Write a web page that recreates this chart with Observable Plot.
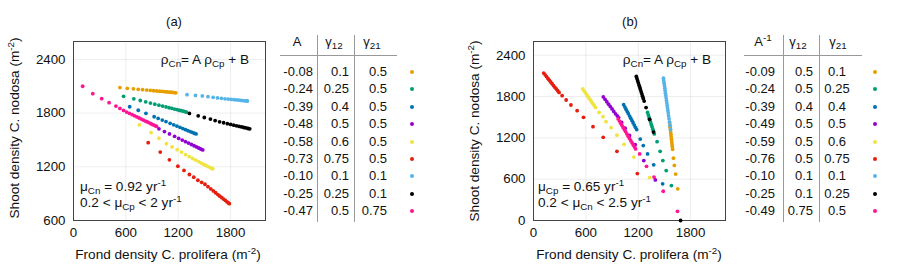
<!DOCTYPE html>
<html>
<head>
<meta charset="utf-8">
<script src="https://cdn.jsdelivr.net/npm/d3@7"></script>
<script src="https://cdn.jsdelivr.net/npm/@observablehq/plot@0.6"></script>
<style>
  html, body { margin: 0; padding: 0; background: #fff; }
  #root { position: relative; width: 900px; height: 277px; overflow: hidden;
          font-family: "Liberation Sans", Arial, sans-serif; font-size: 13px; color: #111; }
  .abs { position: absolute; white-space: nowrap; line-height: 16px; }
  .big { font-size: 13.6px; }
  .abs sub { font-size: 9.8px; vertical-align: -3px; line-height: 0; }
  .abs sup { font-size: 9.8px; vertical-align: 5px; line-height: 0; }
  .svgwrap { position: absolute; top: 0; }
  .hline, .vline { position: absolute; background: #999; }
  .sw { position: absolute; width: 4px; height: 4px; border-radius: 50%; }
</style>
</head>
<body>
<div id="root"></div>
<script>
// ---------- colours / series order ----------
const seriesNames = ["s1", "s2", "s3", "s4", "s5", "s6", "s7", "s8", "s9"];
const seriesColors = ["#e69f00", "#009e73", "#0072b2", "#9400d3", "#f0e442", "#e51e10", "#56b4e9", "#000000", "#ff1493"];

// ---------- panel (a) data: [frond density C. prolifera, shoot density C. nodosa] ----------
const aOrange = [[532,2085],[617,2077],[687,2071],[742,2066],[792,2062],[839,2057],[880,2054],[917,2050],[952,2047],[985,2044],[1015,2042],[1043,2039],[1069,2037],[1092,2035],[1115,2033],[1136,2031],[1155,2029],[1172,2027]];
const aGreen = [[574,1987],[691,1959],[765,1941],[827,1926],[882,1912],[932,1900],[979,1889],[1021,1878],[1060,1869],[1095,1860],[1127,1853],[1157,1845],[1185,1839],[1211,1832],[1234,1827],[1256,1821],[1277,1816],[1293,1812]];
const aBlue = [[644,1871],[742,1832],[830,1797],[924,1759],[970,1741],[1017,1722],[1060,1705],[1107,1686],[1148,1669],[1185,1655],[1220,1641],[1253,1627],[1283,1615],[1311,1604],[1337,1594],[1360,1585],[1383,1575],[1404,1567]];
const aPurple = [[979,1624],[1042,1594],[1100,1567],[1158,1540],[1205,1518],[1246,1499],[1283,1481],[1318,1465],[1351,1449],[1381,1435],[1409,1422],[1435,1410],[1458,1399],[1481,1388]];
const aYellow = [[754,1669],[889,1582],[979,1519],[1064,1458],[1130,1421],[1188,1391],[1238,1365],[1285,1335],[1327,1313],[1365,1293],[1400,1275],[1433,1258],[1463,1242],[1491,1228],[1517,1215],[1541,1203],[1565,1191],[1587,1182],[1596,1178]];
const aRed = [[856,1470],[994,1365],[1099,1278],[1196,1207],[1266,1159],[1328,1114],[1378,1084],[1425,1050],[1468,1027],[1506,1005],[1541,978],[1573,953],[1602,931],[1628,910],[1654,890],[1677,872],[1699,855],[1720,839],[1740,824],[1759,809],[1776,796],[1786,788]];
const aLightBlue = [[1301,2006],[1398,1998],[1476,1992],[1541,1984],[1600,1976],[1650,1969],[1695,1965],[1736,1960],[1773,1957],[1807,1953],[1839,1950],[1868,1947],[1895,1945],[1919,1942],[1943,1940],[1965,1937],[1986,1935],[1992,1935]];
const aBlack = [[1328,1796],[1429,1770],[1499,1751],[1569,1733],[1623,1717],[1674,1702],[1720,1692],[1763,1682],[1801,1673],[1836,1665],[1869,1658],[1899,1651],[1927,1645],[1953,1639],[1977,1634],[2000,1628],[2019,1624]];
const aPink = [[105,2100],[221,2017],[323,1961],[408,1916],[486,1879],[532,1852],[574,1830],[609,1812],[641,1797],[672,1782],[700,1769],[727,1757],[752,1745],[777,1733],[800,1722],[824,1711],[846,1701],[867,1691],[888,1681],[908,1671],[927,1663],[944,1655],[952,1651]];

// ---------- panel (b) data ----------
const bOrange = [[1560,1425],[1563,1390],[1566,1355],[1569,1320],[1572,1285],[1575,1250],[1578,1215],[1581,1180],[1584,1145],[1587,1110],[1590,1075],[1594,1035],[1604,905],[1614,800],[1629,675],[1653,460]];
const bGreen = [[1307,1570],[1316,1533],[1324,1501],[1333,1464],[1341,1432],[1350,1395],[1358,1362],[1367,1326],[1375,1293],[1384,1257],[1416,1145],[1451,1005],[1482,870],[1521,725],[1580,507]];
const bBlue = [[1033,1682],[1047,1648],[1060,1616],[1074,1582],[1087,1551],[1101,1517],[1114,1485],[1128,1451],[1141,1420],[1155,1386],[1168,1354],[1182,1320],[1223,1182],[1258,1088],[1307,967],[1377,808],[1480,532]];
const bPurple = [[800,1795],[820,1760],[840,1725],[860,1690],[880,1655],[900,1620],[920,1585],[940,1550],[960,1520],[975,1495],[1010,1425],[1050,1340],[1100,1235],[1165,1100],[1264,870],[1396,590]];
const bYellow = [[565,1910],[581,1880],[597,1851],[613,1821],[629,1792],[645,1762],[661,1732],[677,1702],[694,1673],[710,1643],[752,1570],[796,1508],[831,1436],[889,1349],[956,1240],[1038,1105],[1150,921],[1330,624]];
const bRed = [[117,2142],[133,2116],[149,2090],[165,2064],[181,2038],[197,2012],[213,1986],[229,1960],[245,1934],[261,1910],[277,1885],[293,1860],[328,1813],[374,1750],[429,1678],[500,1595],[573,1498],[682,1363],[799,1208],[956,1005],[1190,682]];
const bLightBlue = [[1489,2066],[1493,2030],[1497,1994],[1501,1958],[1505,1922],[1508,1886],[1512,1850],[1516,1814],[1520,1778],[1524,1742],[1528,1706],[1532,1670],[1536,1634],[1540,1598],[1544,1560],[1548,1520],[1553,1478],[1558,1432],[1564,1380],[1570,1320]];
const bBlack = [[1178,2092],[1186,2060],[1194,2028],[1202,1996],[1210,1964],[1218,1932],[1226,1900],[1234,1868],[1242,1836],[1250,1804],[1258,1772],[1268,1735],[1290,1640],[1330,1470],[1375,1285],[1685,0]];
const bPink = [[971,1475],[985,1444],[999,1414],[1013,1383],[1027,1352],[1041,1322],[1055,1291],[1070,1258],[1085,1225],[1100,1192],[1115,1160],[1130,1127],[1145,1094],[1158,1066],[1170,1040],[1217,967],[1295,787],[1381,631],[1486,425],[1650,133]];

// ---------- axes ----------
const xTicks = [0, 600, 1200, 1800];
const aYTicks = [600, 1200, 1800, 2400];
const bYTicks = [0, 600, 1200, 1800, 2400];

// ---------- tables ----------
const aTableA = ["-0.08","-0.24","-0.39","-0.48","-0.58","-0.73","-0.10","-0.25","-0.47"];
const aTableG12 = ["0.1","0.25","0.4","0.5","0.6","0.75","0.1","0.25","0.5"];
const aTableG21 = ["0.5","0.5","0.5","0.5","0.5","0.5","0.1","0.1","0.75"];
const bTableA = ["-0.09","-0.24","-0.39","-0.49","-0.59","-0.76","-0.10","-0.25","-0.49"];
const bTableG12 = ["0.5","0.5","0.4","0.5","0.5","0.5","0.1","0.1","0.75"];
const bTableG21 = ["0.1","0.25","0.4","0.5","0.6","0.75","0.1","0.25","0.5"];

const aSeries = [aOrange, aGreen, aBlue, aPurple, aYellow, aRed, aLightBlue, aBlack, aPink];
const bSeries = [bOrange, bGreen, bBlue, bPurple, bYellow, bRed, bLightBlue, bBlack, bPink];

const root = document.getElementById("root");

function makePlot(series, yDomain, yTicks) {
  const data = [];
  series.forEach((pts, i) => pts.forEach(p => data.push({x: p[0], y: p[1], s: seriesNames[i]})));
  return Plot.plot({
    width: 290, height: 240,
    marginLeft: 73, marginRight: 25, marginTop: 41, marginBottom: 20,
    style: {fontFamily: '"Liberation Sans", Arial, sans-serif', fontSize: "13.3px", color: "#111", background: "transparent", overflow: "visible"},
    x: {domain: [0, 2200], ticks: xTicks, tickFormat: "d", label: null, tickSize: 0, tickPadding: 7},
    y: {domain: yDomain, ticks: yTicks, tickFormat: "d", label: null, tickSize: 0, tickPadding: 8},
    color: {type: "ordinal", domain: seriesNames, range: seriesColors},
    marks: [
      Plot.gridX(xTicks, {stroke: "#000", strokeOpacity: 0.07}),
      Plot.gridY(yTicks, {stroke: "#000", strokeOpacity: 0.07}),
      Plot.frame({stroke: "#444"}),
      Plot.dot(data, {x: "x", y: "y", fill: "s", r: 1.9, stroke: null})
    ]
  });
}

function addSvg(svg, left) {
  const w = document.createElement("div");
  w.className = "svgwrap";
  w.style.left = left + "px";
  w.appendChild(svg);
  root.appendChild(w);
}

function addText(html, x, y, anchor, cls) {
  const d = document.createElement("div");
  d.className = "abs" + (cls ? " " + cls : "");
  d.innerHTML = html;
  d.style.left = x + "px";
  d.style.top = y + "px";
  let tx = anchor === "end" ? "-100%" : anchor === "middle" ? "-50%" : "0";
  d.style.transform = `translate(${tx}, -50%)`;
  root.appendChild(d);
  return d;
}

function addRotated(html, cx, cy) {
  const d = document.createElement("div");
  d.className = "abs big";
  d.innerHTML = html;
  d.style.left = cx + "px";
  d.style.top = cy + "px";
  d.style.transform = "translate(-50%, -50%) rotate(-90deg)";
  root.appendChild(d);
}

function addLine(cls, x, y, w, h) {
  const d = document.createElement("div");
  d.className = cls;
  d.style.left = x + "px"; d.style.top = y + "px";
  d.style.width = w + "px"; d.style.height = h + "px";
  root.appendChild(d);
}

function addTable(cfg) {
  cfg.headers.forEach(h => addText(h.html, h.x, 42, "middle"));
  addLine("hline", cfg.hx0, 55, cfg.hx1 - cfg.hx0, 1);
  cfg.vlines.forEach(x => addLine("vline", x, 35, 1, 187));
  for (let i = 0; i < 9; i++) {
    const yc = 72 + i * 17.4;
    cfg.cols.forEach(c => addText(c.values[i], c.x, yc, c.anchor));
    const s = document.createElement("div");
    s.className = "sw";
    s.style.left = (cfg.dotX - 2) + "px";
    s.style.top = (yc - 2) + "px";
    s.style.background = seriesColors[i];
    root.appendChild(s);
  }
}

// ---------- panel (a) ----------
addSvg(makePlot(aSeries, [600, 2600], aYTicks), 0);
addText("(a)", 174, 22, "middle");
addRotated("Shoot density C. nodosa (m<sup>-2</sup>)", 15, 128);
addText("Frond density C. prolifera (m<sup>-2</sup>)", 168, 255, "middle", "big");
addText("ρ<sub>Cn</sub>= A ρ<sub>Cp</sub> + B", 249, 60, "end", "big");
addText("μ<sub>Cn</sub> = 0.92 yr<sup>-1</sup>", 80, 187, "start", "big");
addText("0.2 &lt; μ<sub>Cp</sub> &lt; 2 yr<sup>-1</sup>", 80, 203, "start", "big");
addTable({
  headers: [{html: "A", x: 297}, {html: "γ<sub>12</sub>", x: 334}, {html: "γ<sub>21</sub>", x: 372}],
  hx0: 280, hx1: 397, vlines: [317, 354],
  cols: [{values: aTableA, x: 313, anchor: "end"}, {values: aTableG12, x: 349, anchor: "end"}, {values: aTableG21, x: 387, anchor: "end"}],
  dotX: 412
});

// ---------- panel (b) ----------
addSvg(makePlot(bSeries, [0, 2600], bYTicks), 460);
addText("(b)", 630, 22, "middle");
addRotated("Shoot density C. nodosa (m<sup>-2</sup>)", 475, 131);
addText("Frond density C. prolifera (m<sup>-2</sup>)", 629, 255, "middle", "big");
addText("ρ<sub>Cn</sub>= A ρ<sub>Cp</sub> + B", 711, 60, "end", "big");
addText("μ<sub>Cp</sub> = 0.65 yr<sup>-1</sup>", 538, 187, "start", "big");
addText("0.2 &lt; μ<sub>Cn</sub> &lt; 2.5 yr<sup>-1</sup>", 538, 203, "start", "big");
addTable({
  headers: [{html: "A<sup>-1</sup>", x: 763}, {html: "γ<sub>12</sub>", x: 798}, {html: "γ<sub>21</sub>", x: 838}],
  hx0: 744, hx1: 862, vlines: [783, 819],
  cols: [{values: bTableA, x: 775, anchor: "end"}, {values: bTableG12, x: 813, anchor: "end"}, {values: bTableG21, x: 837, anchor: "middle"}],
  dotX: 875
});
</script>
</body>
</html>
